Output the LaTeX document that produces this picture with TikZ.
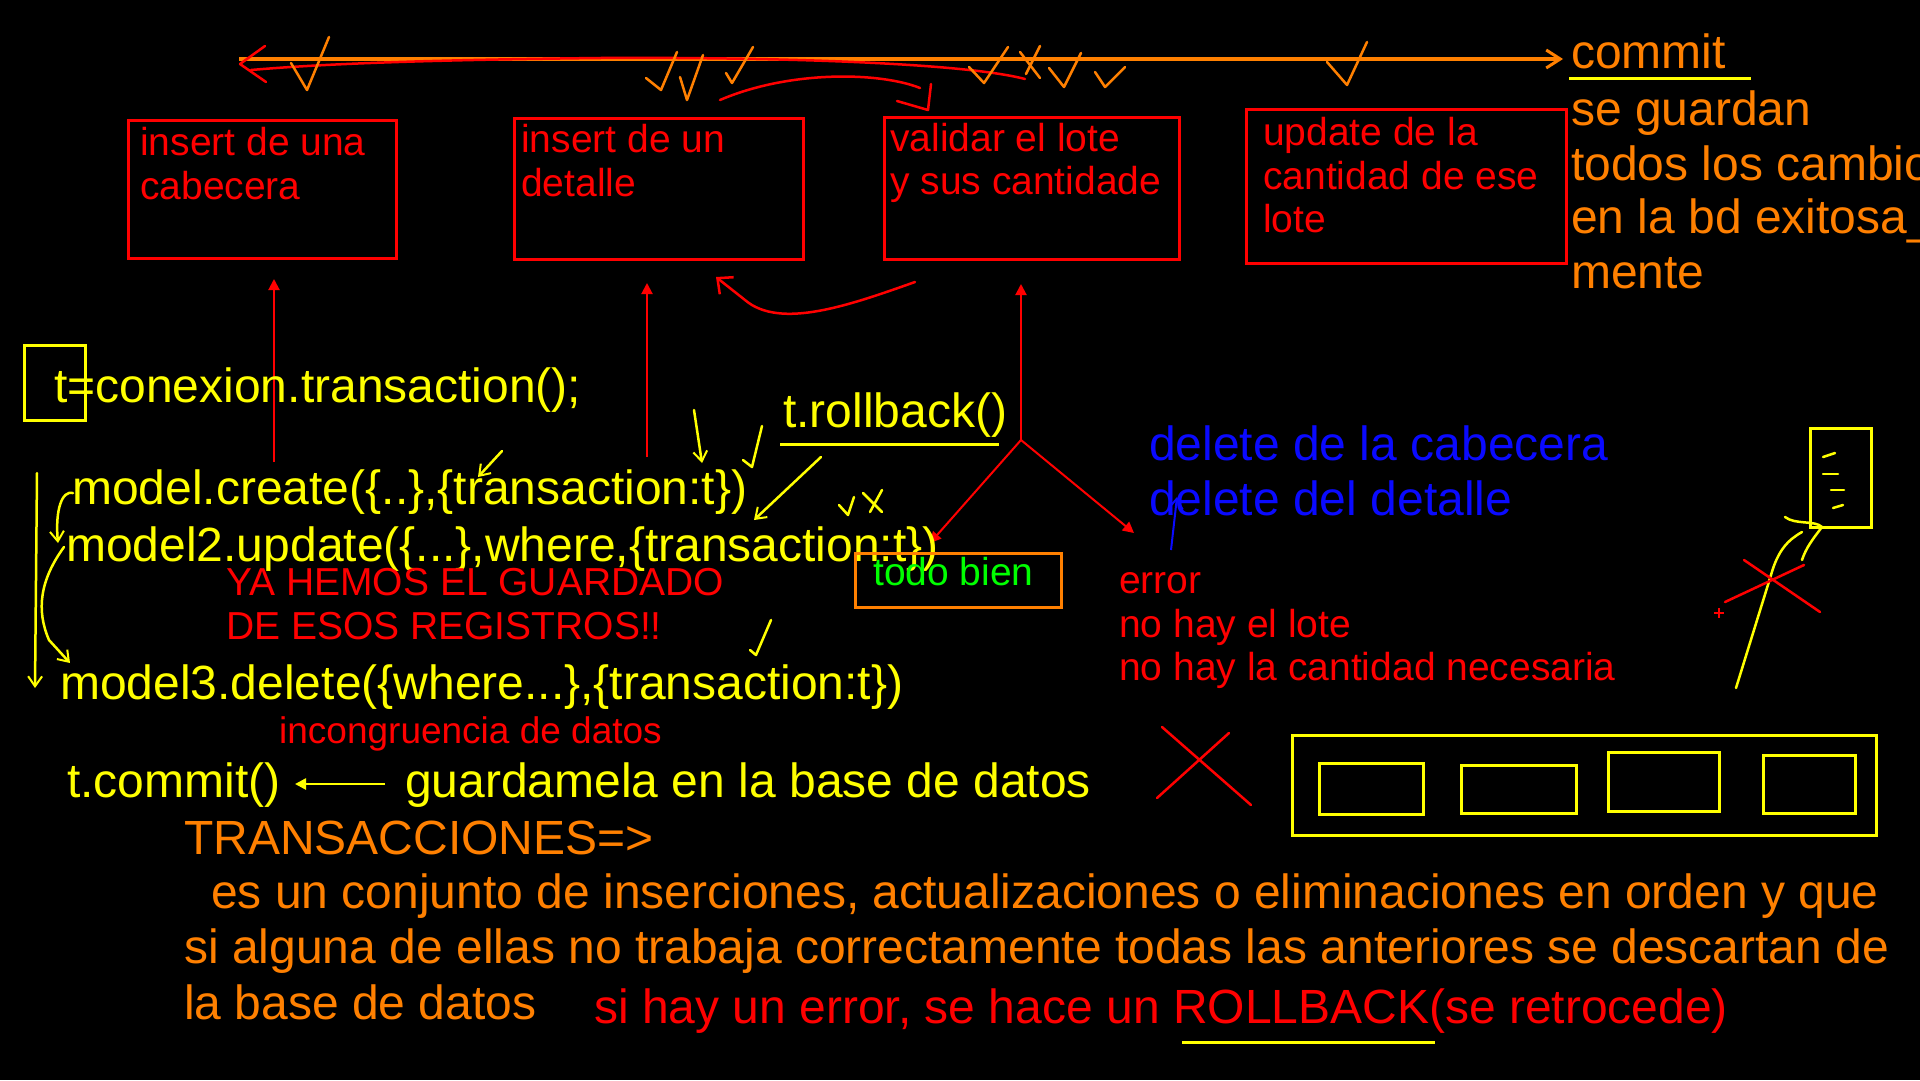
\documentclass[tikz,border=0pt]{standalone}
\usepackage{fontspec}
\setmainfont{Liberation Sans}
\usetikzlibrary{arrows.meta}
\definecolor{cred}{RGB}{255,0,0}
\definecolor{cyel}{RGB}{255,255,0}
\definecolor{corg}{RGB}{255,128,0}
\definecolor{cgrn}{RGB}{0,255,0}
\definecolor{cblu}{RGB}{10,10,255}
\tikzset{
  big/.style={font=\fontsize{48}{56}\selectfont, inner sep=0pt, anchor=base west},
  mid/.style={font=\fontsize{39}{46}\selectfont, inner sep=0pt, anchor=base west},
  pen/.style={line width=2.5pt, line cap=round, line join=round},
  redbox/.style={draw=cred, line width=3pt, anchor=north west, inner sep=0pt},
  tipr/.style={-{Straight Barb[length=10pt,width=14pt,line width=2pt]}},
  tipf/.style={-{Triangle[length=11pt,width=11pt]}},
}
\begin{document}
\begin{tikzpicture}[x=1pt,y=-1pt]
\fill[black] (0,0) rectangle (1920,1080);
\useasboundingbox (0,0) rectangle (1920,1080);

% ---------- top time line ----------
\coordinate (tlS) at (239,59);
\coordinate (tlE) at (1563,59);
\draw[corg, line width=3.5pt, -{Straight Barb[length=14pt,width=18pt,line width=3pt]}] (tlS) -- (tlE);
\node[big, text=corg] (commit) at (1571,68) {commit};
\draw[cyel, line width=3pt] (1569,78) -- (1751,78);
\node[big, text=corg] (cm1) at (1571,125) {se guardan};
\node[big, text=corg] (cm2) at (1571,180) {todos los cambios};
\node[big, text=corg] (cm3) at (1571,233) {en la bd exitosa\_};
\node[big, text=corg] (cm4) at (1571,288) {mente};

% red back line with arrow to the left
\coordinate (rbS) at (1025,79);
\coordinate (rbE) at (251,70);
\draw[cred, pen] (rbS) .. controls (960,62) and (760,57) .. (600,58) .. controls (420,60) and (320,64) .. (rbE);
\draw[cred, pen] (265,46) -- (240,64) -- (266,82);

% orange check marks
\draw[corg, pen] (291,63) -- (307,90) -- (329,37);
\draw[corg, pen] (646,78) -- (661,90) -- (677,52);
\draw[corg, pen] (680,77) -- (687,100) -- (703,55);
\draw[corg, pen] (726,73) -- (732,83) -- (753,47);
\draw[corg, pen] (969,67) -- (984,83) -- (1008,47);
\draw[corg, pen] (1020,52) -- (1040,78);
\draw[corg, pen] (1040,46) -- (1026,74);
\draw[corg, pen] (1049,68) -- (1064,87) -- (1081,53);
\draw[corg, pen] (1095,72) -- (1105,87) -- (1125,67);
\draw[corg, pen] (1327,62) -- (1347,85) -- (1367,42);

% red curve arrow at top
\draw[cred, pen] (720,100) .. controls (790,70) and (880,72) .. (920,88);
\draw[cred, pen] (931,84) -- (928,110) -- (897,101);

% ---------- boxes ----------
\node[redbox, minimum width=268pt, minimum height=138pt] (b1) at (127,119) {};
\node[mid, text=cred] (b1t1) at (140,155) {insert de una};
\node[mid, text=cred] (b1t2) at (140,199) {cabecera};

\node[redbox, minimum width=289pt, minimum height=141pt] (b2) at (513,117) {};
\node[mid, text=cred] (b2t1) at (521,152) {insert de un};
\node[mid, text=cred] (b2t2) at (521,196) {detalle};

\node[redbox, minimum width=295pt, minimum height=142pt] (b3) at (883,116) {};
\node[mid, text=cred] (b3t1) at (890,151) {validar el lote};
\node[mid, text=cred] (b3t2) at (890,194) {y sus cantidade};

\node[redbox, minimum width=320pt, minimum height=154pt] (b4) at (1245,108) {};
\node[mid, text=cred] (b4t1) at (1263,145) {update de la};
\node[mid, text=cred] (b4t2) at (1263,189) {cantidad de ese};
\node[mid, text=cred] (b4t3) at (1263,232) {lote};

% red arrows up to boxes
\coordinate (a1s) at (274,462); \coordinate (a1e) at (274,279);
\coordinate (a2s) at (647,457); \coordinate (a2e) at (647,283);
\coordinate (a3s) at (1021,440); \coordinate (a3e) at (1021,284);
\draw[cred, line width=2pt, tipf] (a1s) -- (a1e);
\draw[cred, line width=2pt, tipf] (a2s) -- (a2e);
\draw[cred, line width=2pt, tipf] (a3s) -- (a3e);
\coordinate (brL) at (930,543);
\coordinate (brR) at (1134,533);
\draw[cred, line width=2pt, tipf] (a3s) -- (brL);
\draw[cred, line width=2pt, tipf] (a3s) -- (brR);

% red curvy arrow back
\coordinate (rcS) at (915,282);
\coordinate (rcE) at (716,277);
\draw[cred, pen, -{Straight Barb[length=12pt,width=22pt,line width=2.5pt]}] (rcS) .. controls (850,305) and (780,330) .. (745,300) .. controls (732,290) .. (rcE);

% ---------- code ----------
\draw[cyel, line width=3pt] (24,345) rectangle (85,420);
\node[big, text=cyel] (conx) at (54,402) {t=conexion.transaction();};
\node[big, text=cyel] (rollb) at (783,427) {t.rollback()};
\draw[cyel, line width=3pt] (780,444) -- (999,444);
\node[big, text=cyel] (m1) at (72,504) {model.create(\{..\},\{transaction:t\})};
\node[big, text=cyel] (m2) at (66,561) {model2.update(\{...\},where,\{transaction:t\})};
\node[mid, text=cred] (ya1) at (226,595) {YA HEMOS EL GUARDADO};
\node[mid, text=cred] (ya2) at (226,639) {DE ESOS REGISTROS!!};
\node[big, text=cyel] (m3) at (60,699) {model3.delete(\{where...\},\{transaction:t\})};
\node[mid, text=cred, font=\fontsize{37}{44}\selectfont] (inc) at (279,743) {incongruencia de datos};
\node[big, text=cyel] (tc) at (67,797) {t.commit()};
\node[big, text=cyel] (gu) at (405,797) {guardamela en la base de datos};
\draw[cyel, line width=2.5pt, tipf] (385,784) -- (295,784);

% todo bien / error
\draw[corg, line width=3pt] (855,553) rectangle (1061,607);
\node[mid, text=cgrn] (tb) at (873,585) {todo bien};
\node[mid, text=cred] (er1) at (1119,593) {error};
\node[mid, text=cred] (er2) at (1119,637) {no hay el lote};
\node[mid, text=cred] (er3) at (1119,680) {no hay la cantidad necesaria};

\node[big, text=cblu] (d1) at (1149,460) {delete de la cabecera};
\node[big, text=cblu] (d2) at (1149,515) {delete del detalle};
\draw[cblu, line width=2pt, tipr] (1171,550) -- (1177,497);

% yellow handwritten arrows
\draw[cyel, pen, tipr] (502,451) -- (478,477);
\draw[cyel, pen, tipr] (694,410) -- (702,463);
\draw[cyel, pen, tipr] (821,457) -- (754,520);
\draw[cyel, pen] (743,460) -- (752,467) -- (762,426);
\draw[cyel, pen] (839,505) -- (848,515) -- (854,497);
\draw[cyel, pen] (863,493) -- (882,512);
\draw[cyel, pen] (882,490) -- (870,512);
\draw[cyel, pen] (750,650) -- (756,655) -- (771,620);

% left margin arrows
\draw[cyel, pen, tipr] (37,473) -- (35,688);
\draw[cyel, pen, tipr] (73,493) .. controls (62,490) and (55,510) .. (58,543);
\draw[cyel, pen, tipr] (64,547) .. controls (40,580) and (36,610) .. (49,640) -- (70,663);

% right-side sketch
\draw[cyel, line width=3pt] (1810,428) rectangle (1871,527);
\draw[cyel, pen] (1823,457) -- (1835,453);
\draw[cyel, pen] (1823,474) -- (1838,474);
\draw[cyel, pen] (1831,490) -- (1844,490);
\draw[cyel, pen] (1833,508) -- (1843,505);
\draw[cyel, pen] (1785,517) .. controls (1795,525) and (1815,520) .. (1822,527) .. controls (1812,540) and (1806,548) .. (1802,560);
\draw[cyel, pen] (1802,532) .. controls (1788,540) and (1778,550) .. (1771,575) -- (1736,688);
\draw[cred, pen] (1744,560) -- (1820,612);
\draw[cred, pen] (1725,602) -- (1804,565);
\draw[cred, line width=1.5pt] (1714,613) -- (1724,613) (1719,608) -- (1719,618);

% lower red X
\draw[cred, pen] (1162,727) -- (1251,805);
\draw[cred, pen] (1229,733) -- (1157,798);

% yellow container with four boxes
\draw[cyel, line width=3pt] (1292,735) rectangle (1876,835);
\draw[cyel, line width=3pt] (1319,763) rectangle (1423,814);
\draw[cyel, line width=3pt] (1461,765) rectangle (1576,813);
\draw[cyel, line width=3pt] (1608,752) rectangle (1719,811);
\draw[cyel, line width=3pt] (1763,755) rectangle (1855,813);

% ---------- definition ----------
\node[big, text=corg] (tr) at (184,854) {TRANSACCIONES=>};
\node[big, text=corg] (def1) at (211,908) {es un conjunto de inserciones, actualizaciones o eliminaciones en orden y que};
\node[big, text=corg] (def2) at (184,963) {si alguna de ellas no trabaja correctamente todas las anteriores se descartan de};
\node[big, text=corg] (def3) at (184,1019) {la base de datos};
\node[big, text=cred] (rb) at (594,1023) {si hay un error, se hace un ROLLBACK(se retrocede)};
\draw[cyel, line width=3pt] (1182,1042) -- (1435,1042);
\end{tikzpicture}
\end{document}
